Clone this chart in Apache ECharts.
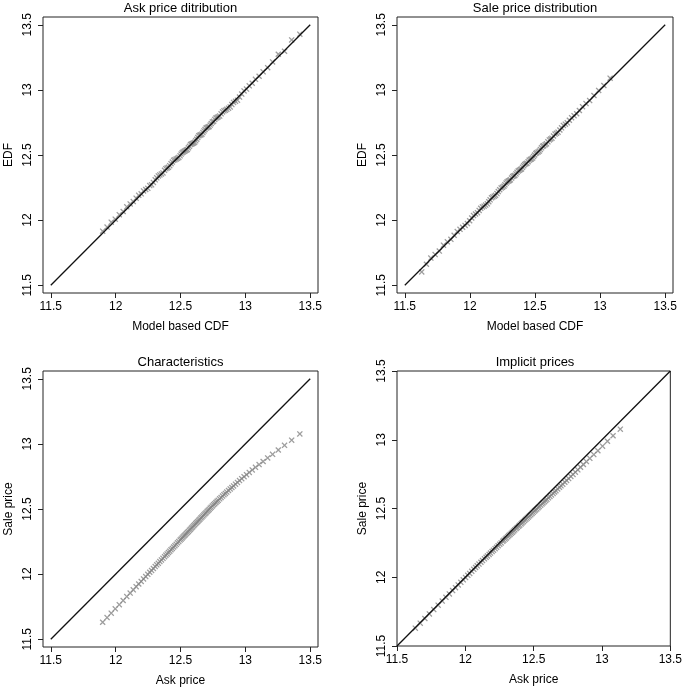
<!DOCTYPE html>
<html>
<head>
<meta charset="utf-8">
<script src="https://cdn.jsdelivr.net/npm/echarts@6/dist/echarts.min.js"></script>
<style>
  html, body { margin: 0; padding: 0; background: #fff; }
  #chart { width: 685px; height: 689px; }
</style>
</head>
<body>
<div id="chart"></div>
<script>
// quantiles of log ask price (model based), 100 points
const askQ = [
  11.900, 11.934, 11.966, 11.997, 12.028, 12.058, 12.086, 12.112, 12.136, 12.158,
  12.178, 12.197, 12.215, 12.232, 12.248, 12.263, 12.277, 12.291, 12.305, 12.317,
  12.329, 12.341, 12.353, 12.365, 12.377, 12.387, 12.397, 12.407, 12.417, 12.427,
  12.437, 12.447, 12.457, 12.467, 12.477, 12.487, 12.497, 12.505, 12.513, 12.521,
  12.529, 12.537, 12.545, 12.553, 12.561, 12.569, 12.577, 12.585, 12.593, 12.601,
  12.609, 12.617, 12.625, 12.633, 12.641, 12.649, 12.657, 12.665, 12.673, 12.681,
  12.689, 12.697, 12.705, 12.713, 12.721, 12.729, 12.737, 12.746, 12.755, 12.764,
  12.773, 12.782, 12.791, 12.802, 12.813, 12.824, 12.835, 12.846, 12.857, 12.870,
  12.883, 12.896, 12.909, 12.924, 12.939, 12.955, 12.972, 12.990, 13.009, 13.030,
  13.053, 13.078, 13.106, 13.137, 13.172, 13.210, 13.254, 13.302, 13.357, 13.420
];
// empirical ask quantiles
const askEdf = [
  11.915, 11.946, 11.984, 12.007, 12.042, 12.066, 12.102, 12.124, 12.142, 12.168,
  12.190, 12.202, 12.224, 12.235, 12.244, 12.265, 12.271, 12.289, 12.309, 12.325,
  12.339, 12.347, 12.355, 12.362, 12.382, 12.395, 12.401, 12.405, 12.418, 12.433,
  12.446, 12.459, 12.464, 12.470, 12.475, 12.481, 12.494, 12.507, 12.518, 12.524,
  12.528, 12.533, 12.538, 12.543, 12.555, 12.567, 12.580, 12.584, 12.588, 12.592,
  12.597, 12.609, 12.621, 12.635, 12.647, 12.652, 12.655, 12.660, 12.672, 12.685,
  12.696, 12.707, 12.711, 12.715, 12.718, 12.730, 12.742, 12.754, 12.759, 12.773,
  12.784, 12.788, 12.793, 12.799, 12.816, 12.831, 12.839, 12.844, 12.851, 12.860,
  12.869, 12.887, 12.904, 12.912, 12.921, 12.945, 12.968, 12.992, 13.006, 13.031,
  13.051, 13.081, 13.105, 13.139, 13.171, 13.215, 13.274, 13.297, 13.384, 13.428
];
// quantiles of log sale price (model based)
const saleQ = [
  11.630, 11.666, 11.700, 11.733, 11.765, 11.797, 11.827, 11.854, 11.879, 11.903,
  11.924, 11.944, 11.963, 11.981, 11.998, 12.014, 12.028, 12.043, 12.058, 12.071,
  12.083, 12.096, 12.109, 12.121, 12.134, 12.145, 12.155, 12.166, 12.176, 12.187,
  12.197, 12.208, 12.218, 12.229, 12.240, 12.250, 12.261, 12.269, 12.278, 12.286,
  12.295, 12.303, 12.311, 12.320, 12.328, 12.337, 12.345, 12.354, 12.362, 12.371,
  12.379, 12.388, 12.396, 12.404, 12.413, 12.421, 12.430, 12.438, 12.447, 12.455,
  12.464, 12.472, 12.481, 12.489, 12.497, 12.506, 12.514, 12.524, 12.533, 12.541,
  12.550, 12.559, 12.567, 12.578, 12.588, 12.599, 12.610, 12.620, 12.630, 12.642,
  12.654, 12.665, 12.677, 12.691, 12.704, 12.718, 12.733, 12.748, 12.764, 12.781,
  12.800, 12.820, 12.841, 12.865, 12.892, 12.920, 12.953, 12.989, 13.029, 13.077
];
// empirical sale quantiles
const saleEdf = [
  11.602, 11.661, 11.708, 11.735, 11.762, 11.807, 11.833, 11.852, 11.883, 11.912,
  11.929, 11.945, 11.959, 11.973, 11.995, 12.016, 12.035, 12.047, 12.057, 12.074,
  12.091, 12.101, 12.107, 12.115, 12.125, 12.141, 12.156, 12.171, 12.178, 12.184,
  12.190, 12.204, 12.219, 12.233, 12.247, 12.253, 12.260, 12.271, 12.284, 12.294,
  12.300, 12.304, 12.309, 12.323, 12.334, 12.339, 12.343, 12.355, 12.367, 12.378,
  12.383, 12.388, 12.393, 12.405, 12.417, 12.427, 12.433, 12.437, 12.449, 12.460,
  12.466, 12.470, 12.476, 12.488, 12.500, 12.512, 12.518, 12.524, 12.530, 12.543,
  12.555, 12.567, 12.571, 12.579, 12.586, 12.601, 12.616, 12.623, 12.629, 12.646,
  12.661, 12.668, 12.675, 12.692, 12.709, 12.727, 12.737, 12.747, 12.767, 12.787,
  12.802, 12.817, 12.842, 12.871, 12.895, 12.918, 12.957, 12.996, 13.034, 13.090
];
// ask quantiles implied by the implicit prices
const implicitQ = [
  11.634, 11.670, 11.704, 11.737, 11.769, 11.801, 11.831, 11.858, 11.883, 11.907,
  11.928, 11.948, 11.967, 11.985, 12.002, 12.018, 12.032, 12.047, 12.062, 12.075,
  12.087, 12.100, 12.114, 12.126, 12.140, 12.152, 12.162, 12.174, 12.184, 12.196,
  12.206, 12.218, 12.229, 12.240, 12.252, 12.262, 12.274, 12.282, 12.292, 12.300,
  12.310, 12.318, 12.327, 12.336, 12.345, 12.354, 12.362, 12.372, 12.380, 12.390,
  12.398, 12.408, 12.416, 12.425, 12.434, 12.443, 12.452, 12.461, 12.470, 12.479,
  12.488, 12.497, 12.506, 12.514, 12.523, 12.532, 12.541, 12.551, 12.561, 12.569,
  12.579, 12.588, 12.597, 12.608, 12.619, 12.630, 12.642, 12.653, 12.663, 12.676,
  12.689, 12.700, 12.713, 12.728, 12.741, 12.756, 12.772, 12.788, 12.805, 12.823,
  12.843, 12.864, 12.886, 12.911, 12.940, 12.970, 13.004, 13.040, 13.081, 13.134
];

const tickValues = [11.5, 12, 12.5, 13, 13.5];
const diagEnds = [11.5, 13.5];

const panels = [
  { title: "Ask price ditribution", xName: "Model based CDF", yName: "EDF", xs: askQ, ys: askEdf },
  { title: "Sale price distribution", xName: "Model based CDF", yName: "EDF", xs: saleQ, ys: saleEdf },
  { title: "Characteristics", xName: "Ask price", yName: "Sale price", xs: askQ, ys: saleQ },
  { title: "Implicit prices", xName: "Ask price", yName: "Sale price", xs: implicitQ, ys: saleQ },
];

const FONT = "'Liberation Sans', Arial, sans-serif";
const TXT = "#000";

// plot boxes (R style), the last one has no axis extension
const boxes = [
  { left: 43, top: 17, width: 275, height: 276, ext: 0.06 },
  { left: 397, top: 17, width: 276, height: 276, ext: 0.06 },
  { left: 43, top: 371, width: 275, height: 276, ext: 0.06 },
  { left: 397, top: 371, width: 276, height: 275, ext: 0 },
];
const titleY = [8, 8, 362, 362];

const chart = echarts.init(document.getElementById("chart"), null, { renderer: "canvas" });

const grid = boxes.map((b) => ({
  left: b.left, top: b.top, width: b.width, height: b.height,
  show: true, borderColor: "#222", borderWidth: 1, backgroundColor: "transparent",
  containLabel: false,
}));

function axis(kind, i, name) {
  const b = boxes[i];
  const isX = kind === "x";
  return {
    type: "value",
    gridIndex: i,
    min: 11.5 - b.ext,
    max: 13.5 + b.ext,
    name,
    nameLocation: "middle",
    nameGap: 28,
    nameTextStyle: { fontFamily: FONT, fontSize: 12, color: TXT },
    axisLine: { show: false },
    splitLine: { show: false },
    axisTick: {
      show: true, inside: false, length: 5,
      customValues: tickValues,
      lineStyle: { color: "#222", width: 1 },
    },
    axisLabel: {
      show: true,
      customValues: tickValues,
      margin: isX ? 8 : 9,
      rotate: isX ? 0 : 90,
      fontFamily: FONT, fontSize: 12, color: TXT,
      showMinLabel: true, showMaxLabel: true,
      hideOverlap: false,
    },
  };
}

const xAxis = panels.map((p, i) => axis("x", i, p.xName));
const yAxis = panels.map((p, i) => axis("y", i, p.yName));

// "x" marker like R's pch = 4
const cross = "path://M0,1.5L1.5,0L5,3.5L8.5,0L10,1.5L6.5,5L10,8.5L8.5,10L5,6.5L1.5,10L0,8.5L3.5,5Z";

const series = [];
panels.forEach((p, i) => {
  series.push({
    type: "scatter",
    xAxisIndex: i, yAxisIndex: i,
    symbol: cross,
    symbolSize: 6,
    itemStyle: { color: "#858585" },
    silent: true,
    z: 2,
    data: p.xs.map((x, k) => [x, p.ys[k]]),
  });
  series.push({
    type: "line",
    xAxisIndex: i, yAxisIndex: i,
    showSymbol: false,
    silent: true,
    z: 3,
    lineStyle: { color: "#111", width: 1.3 },
    data: diagEnds.map((v) => [v, v]),
  });
});

const graphic = panels.map((p, i) => ({
  type: "text",
  x: boxes[i].left + boxes[i].width / 2,
  y: titleY[i],
  style: {
    text: p.title,
    fill: TXT,
    font: "13px " + FONT,
    textAlign: "center",
    textVerticalAlign: "middle",
  },
}));

chart.setOption({
  animation: false,
  backgroundColor: "#fff",
  grid,
  xAxis,
  yAxis,
  series,
  graphic,
});
</script>
</body>
</html>
